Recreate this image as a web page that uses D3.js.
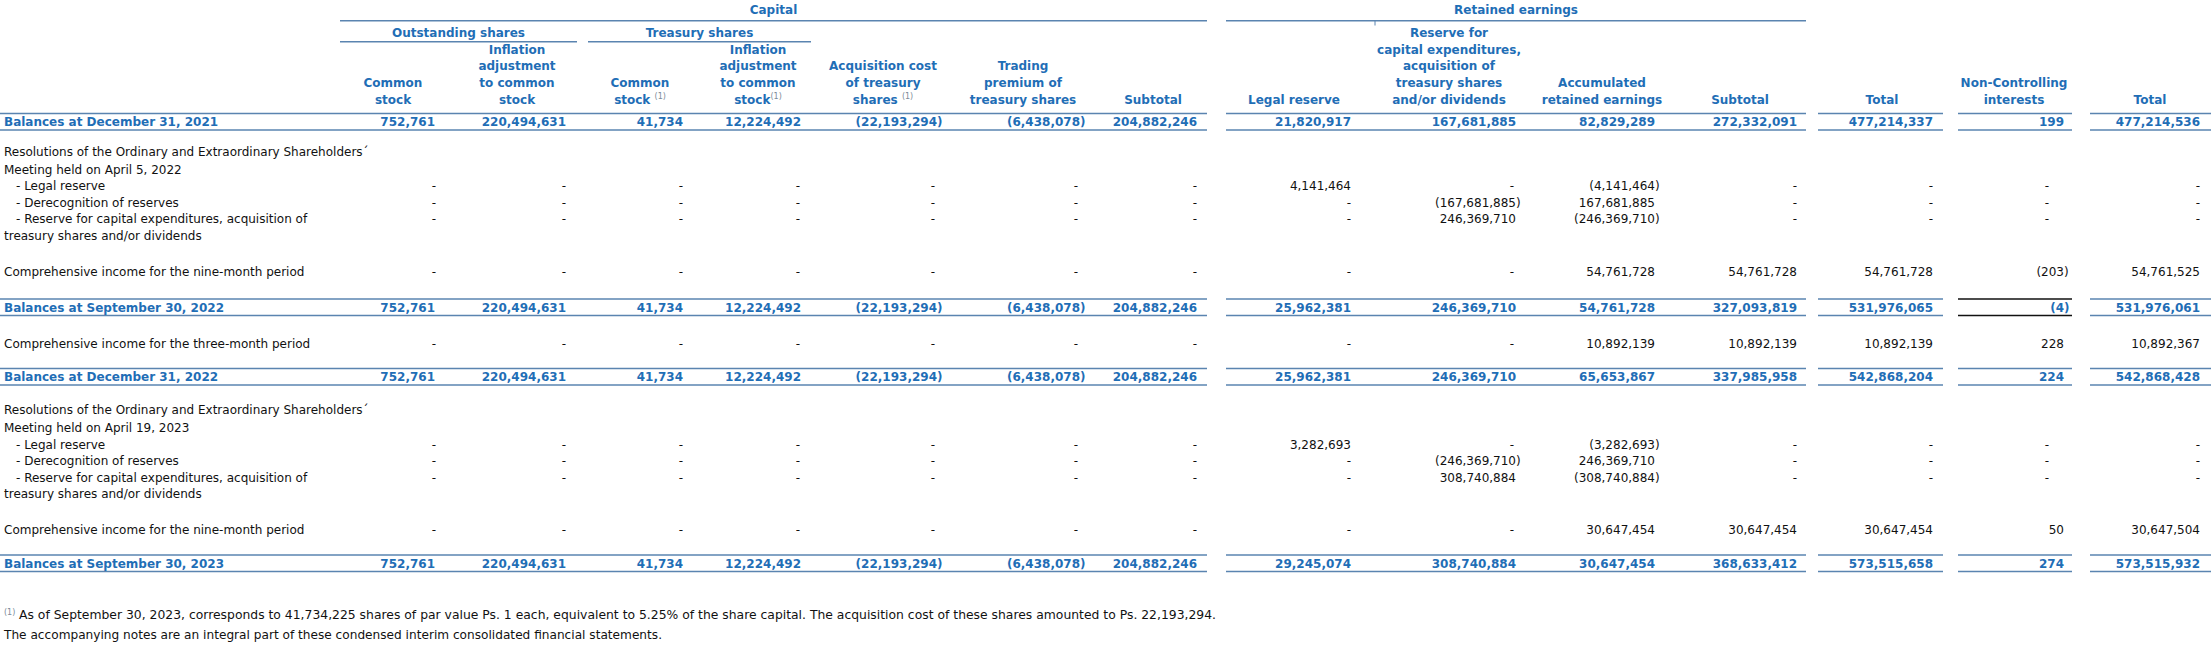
<!DOCTYPE html>
<html><head><meta charset="utf-8">
<script src="https://cdn.jsdelivr.net/npm/d3@7"></script>
<style>
html,body{margin:0;padding:0;background:#fff;}
svg{display:block;}
text{font-family:"DejaVu Sans",Verdana,sans-serif;}
</style></head><body>
<svg id="chart" width="2211" height="645"></svg>
<script>
// ---------------- DATA ----------------
const groupHeaders = ["Capital", "Retained earnings"];
const subGroupHeaders = ["Outstanding shares", "Treasury shares"];
// header text lines per column ("^" marks a superscript note)
const columnHeaders = [
  ["Common", "stock"],
  ["Inflation", "adjustment", "to common", "stock"],
  ["Common", "stock ^(1)"],
  ["Inflation", "adjustment", "to common", "stock^(1)"],
  ["Acquisition cost", "of treasury", "shares ^(1)"],
  ["Trading", "premium of", "treasury shares"],
  ["Subtotal"],
  ["Legal reserve"],
  ["Reserve for", "capital expenditures,", "acquisition of", "treasury shares", "and/or dividends"],
  ["Accumulated", "retained earnings"],
  ["Subtotal"],
  ["Total"],
  ["Non-Controlling", "interests"],
  ["Total"]
];

const rowLabels = [
  "Balances at December 31, 2021",
  "Resolutions of the Ordinary and Extraordinary Shareholders\u00B4",
  "Meeting held on April 5, 2022",
  "- Legal reserve",
  "- Derecognition of reserves",
  "- Reserve for capital expenditures, acquisition of",
  "treasury shares and/or dividends",
  "Comprehensive income for the nine-month period",
  "Balances at September 30, 2022",
  "Comprehensive income for the three-month period",
  "Balances at December 31, 2022",
  "Resolutions of the Ordinary and Extraordinary Shareholders\u00B4",
  "Meeting held on April 19, 2023",
  "- Legal reserve",
  "- Derecognition of reserves",
  "- Reserve for capital expenditures, acquisition of",
  "treasury shares and/or dividends",
  "Comprehensive income for the nine-month period",
  "Balances at September 30, 2023"
];
const rowKinds = ["balance","text","text","item","item","item","text","item","balance","item","balance",
                  "text","text","item","item","item","text","item","balance"];
const rowIndented = [false,false,false,true,true,true,false,false,false,false,false,
                     false,false,true,true,true,false,false,false];

const balDec2021     = [752761, 220494631, 41734, 12224492, -22193294, -6438078, 204882246, 21820917, 167681885, 82829289, 272332091, 477214337, 199, 477214536];
const legal2022      = [0, 0, 0, 0, 0, 0, 0, 4141464, 0, -4141464, 0, 0, 0, 0];
const derecog2022    = [0, 0, 0, 0, 0, 0, 0, 0, -167681885, 167681885, 0, 0, 0, 0];
const reserve2022    = [0, 0, 0, 0, 0, 0, 0, 0, 246369710, -246369710, 0, 0, 0, 0];
const compNine2022   = [0, 0, 0, 0, 0, 0, 0, 0, 0, 54761728, 54761728, 54761728, -203, 54761525];
const balSep2022     = [752761, 220494631, 41734, 12224492, -22193294, -6438078, 204882246, 25962381, 246369710, 54761728, 327093819, 531976065, -4, 531976061];
const compThree2022  = [0, 0, 0, 0, 0, 0, 0, 0, 0, 10892139, 10892139, 10892139, 228, 10892367];
const balDec2022     = [752761, 220494631, 41734, 12224492, -22193294, -6438078, 204882246, 25962381, 246369710, 65653867, 337985958, 542868204, 224, 542868428];
const legal2023      = [0, 0, 0, 0, 0, 0, 0, 3282693, 0, -3282693, 0, 0, 0, 0];
const derecog2023    = [0, 0, 0, 0, 0, 0, 0, 0, -246369710, 246369710, 0, 0, 0, 0];
const reserve2023    = [0, 0, 0, 0, 0, 0, 0, 0, 308740884, -308740884, 0, 0, 0, 0];
const compNine2023   = [0, 0, 0, 0, 0, 0, 0, 0, 0, 30647454, 30647454, 30647454, 50, 30647504];
const balSep2023     = [752761, 220494631, 41734, 12224492, -22193294, -6438078, 204882246, 29245074, 308740884, 30647454, 368633412, 573515658, 274, 573515932];

const rowValues = [balDec2021, null, null, legal2022, derecog2022, reserve2022, null, compNine2022,
                   balSep2022, compThree2022, balDec2022, null, null, legal2023, derecog2023,
                   reserve2023, null, compNine2023, balSep2023];

const footnoteMark = "(1)";
const footnotes = [
  "As of September 30, 2023, corresponds to 41,734,225 shares of par value Ps. 1 each, equivalent to 5.25% of the share capital. The acquisition cost of these shares amounted to Ps. 22,193,294.",
  "The accompanying notes are an integral part of these condensed interim consolidated financial statements."
];

// ---------------- LAYOUT ----------------
const colRight  = [435, 566, 683, 801, 937, 1080, 1197, 1351, 1516, 1655, 1797, 1933, 2064, 2200];
const colCenter = [393, 517, 640, 758, 883, 1023, 1153, 1294, 1449, 1602, 1740, 1882, 2014, 2150];
const dashShift = [-1, -2, -2, -3, -4, -4, -2, -2, -4, -2, -2, -2, -17, -2];
const rowY = [121.7, 152, 169.3, 186, 202.5, 219, 235.5, 271.7, 307.3, 343.3, 376.7,
              410, 427.7, 444.3, 460.7, 477.3, 493.3, 530, 563.3];
const segments = [[0, 1207], [1226, 1806], [1818, 1943], [1958, 2072], [2090, 2211]];
const groupSpans = [[340, 1207], [1226, 1806]];
const subGroupSpans = [[340, 577], [588, 811]];
const darkCells = [{row: 8, seg: 3}];
const headerBottomY = 99.3, headerStep = 16.7;
const footY = [615, 634.5];

const BLUE = "#1f6eb6", LINE = "#5a84b0", INK = "#111", SUP = "#7d8b99";
const FS = 12, BASE = 4.3, HALF = 8.3;

// ---------------- DRAW ----------------
const svg = d3.select("#chart");
const x  = d3.scaleOrdinal().domain(d3.range(colRight.length)).range(colRight);
const xc = d3.scaleOrdinal().domain(d3.range(colCenter.length)).range(colCenter);
const y  = d3.scaleOrdinal().domain(d3.range(rowLabels.length)).range(rowY);
const hy = d3.scaleLinear().domain([0, 1]).range([headerBottomY, headerBottomY - headerStep]);
const fmt = d3.format(",");

const gLines = svg.append("g").attr("stroke-width", 1.5).attr("fill", "none");
function hline(x1, x2, yy, color) {
  gLines.append("line").attr("x1", x1).attr("x2", x2).attr("y1", yy).attr("y2", yy)
    .attr("stroke", color || LINE);
}

// group headers
groupHeaders.forEach((t, i) => {
  const [a, b] = groupSpans[i];
  svg.append("text").attr("x", (a + b) / 2).attr("y", 9.3 + BASE).attr("text-anchor", "middle")
    .attr("font-size", FS).attr("font-weight", "bold").attr("fill", BLUE).text(t);
  hline(a, b, 20.7);
});
gLines.append("line").attr("x1", 1375).attr("x2", 1375).attr("y1", 20.7).attr("y2", 25.5).attr("stroke", LINE).attr("stroke-width", 1);
subGroupHeaders.forEach((t, i) => {
  const [a, b] = subGroupSpans[i];
  svg.append("text").attr("x", (a + b) / 2).attr("y", 32.7 + BASE).attr("text-anchor", "middle")
    .attr("font-size", FS).attr("font-weight", "bold").attr("fill", BLUE).text(t);
  hline(a, b, 41.7);
});

// column headers
columnHeaders.forEach((lines, j) => {
  const n = lines.length;
  lines.forEach((ln, k) => {
    const level = n - 1 - k;
    const parts = ln.split("^");
    const t = svg.append("text").attr("x", xc(j)).attr("y", hy(level) + BASE)
      .attr("text-anchor", "middle").attr("font-size", FS).attr("font-weight", "bold").attr("fill", BLUE);
    t.append("tspan").text(parts[0]);
    if (parts[1]) {
      t.append("tspan").attr("font-size", 8).attr("font-weight", "normal").attr("fill", SUP)
        .attr("dy", -5).text(parts[1]);
    }
  });
});

// rows
rowLabels.forEach((lab, i) => {
  const kind = rowKinds[i];
  const bold = kind === "balance";
  const cy = y(i);
  svg.append("text").attr("x", rowIndented[i] ? 16 : 4).attr("y", cy + BASE)
    .attr("font-size", FS).attr("font-weight", bold ? "bold" : "normal")
    .attr("fill", bold ? BLUE : INK).text(lab);
  const vals = rowValues[i];
  if (vals) {
    vals.forEach((v, j) => {
      const col = bold ? BLUE : INK;
      const base = svg.append("text").attr("y", cy + BASE).attr("font-size", FS)
        .attr("font-weight", bold ? "bold" : "normal").attr("fill", col);
      if (v === 0) {
        base.attr("x", x(j) + dashShift[j]).attr("text-anchor", "middle").text("-");
      } else if (v < 0) {
        base.attr("x", x(j)).attr("text-anchor", "end").text("(" + fmt(-v));
        svg.append("text").attr("x", x(j)).attr("y", cy + BASE).attr("font-size", FS)
          .attr("font-weight", bold ? "bold" : "normal").attr("fill", col).text(")");
      } else {
        base.attr("x", x(j)).attr("text-anchor", "end").text(fmt(v));
      }
    });
  }
  if (bold) {
    segments.forEach(([a, b], s) => {
      const dark = darkCells.some(d => d.row === i && d.seg === s);
      hline(a, b, cy - HALF, dark ? "#111" : LINE);
      hline(a, b, cy + HALF, dark ? "#111" : LINE);
    });
  }
});

// footnotes
svg.append("text").attr("x", 4).attr("y", footY[0] - 0.5).attr("font-size", 8)
  .attr("fill", SUP).text(footnoteMark);
svg.append("text").attr("x", 19).attr("y", footY[0] + BASE).attr("font-size", 11.6)
  .attr("fill", INK).attr("textLength", 1197).attr("lengthAdjust", "spacingAndGlyphs").text(footnotes[0]);
svg.append("text").attr("x", 4).attr("y", footY[1] + BASE).attr("font-size", 11.6)
  .attr("fill", INK).attr("textLength", 658).attr("lengthAdjust", "spacingAndGlyphs").text(footnotes[1]);
</script>
</body></html>
